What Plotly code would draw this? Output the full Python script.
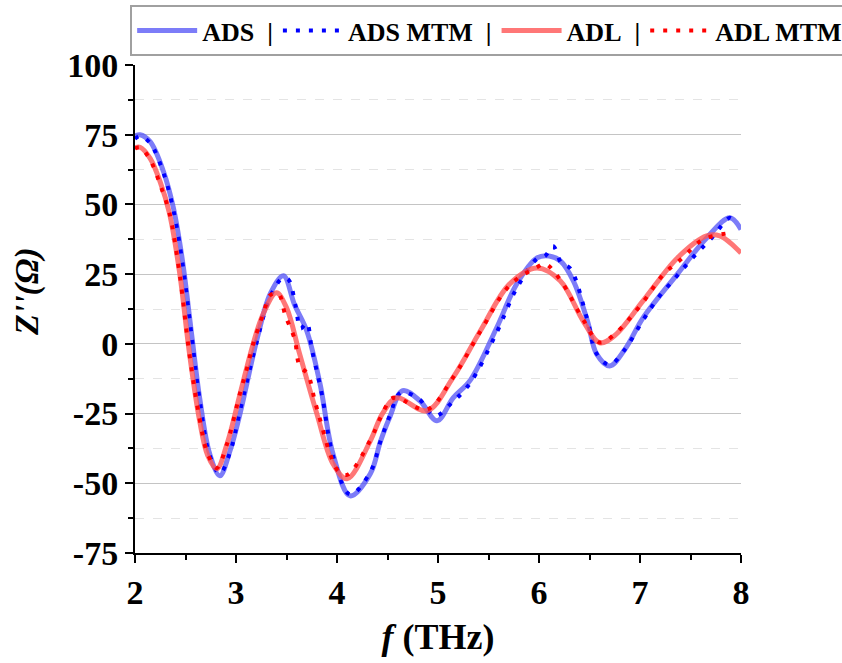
import plotly.graph_objects as go

# Frequency (THz) and imaginary impedance Z'' (Ohm) for each series
ads_f = [2.0, 2.05, 2.15, 2.28, 2.38, 2.47, 2.56, 2.64, 2.74, 2.84, 2.94, 3.04, 3.21, 3.34,
         3.47, 3.58, 3.70, 3.83, 3.96, 4.13, 4.33, 4.43, 4.52, 4.65, 4.82, 4.99, 5.15, 5.32,
         5.58, 5.78, 5.98, 6.10, 6.21, 6.34, 6.48, 6.57, 6.70, 6.85, 7.03, 7.37, 7.66, 7.89, 8.0]
ads_z = [74.5, 75, 72.5, 62, 48.8, 29.8, 3.6, -19.4, -39.5, -47.3, -38.4, -25, 2, 18,
         24.4, 14, 4.7, -14, -39.4, -54.5, -46.6, -35, -26.5, -16.8, -20.4, -27.6, -19.4, -13,
         5.7, 21.5, 30.8, 31.5, 29.8, 22.6, 8.2, -3.6, -7.9, -2, 9.3, 25, 38, 45.2, 41]

ads_mtm_f = [2.0, 2.05, 2.15, 2.28, 2.38, 2.47, 2.56, 2.64, 2.74, 2.84, 2.94, 3.04, 3.2, 3.34,
             3.46, 3.52, 3.59, 3.64, 3.70, 3.75, 3.85, 3.96, 4.13, 4.33, 4.43, 4.52, 4.63, 4.8,
             4.97, 5.14, 5.32, 5.58, 5.78, 5.98, 6.06, 6.14, 6.22, 6.31, 6.48, 6.57, 6.70,
             6.85, 7.03, 7.18, 7.35, 7.52, 7.71, 7.89, 7.93]
ads_mtm_z = [73.5, 74.5, 72, 61.5, 48, 29, 3, -20, -40, -46.5, -39, -24, 0, 17,
             23.5, 23, 13.6, 5.5, 7.5, -1.8, -18, -40, -54, -46, -35, -26, -17.5, -19.4,
             -25.8, -21, -14, 4, 20, 30.5, 31.5, 35, 29, 27, 8.5, -3.5, -7.5,
             -2, 8.5, 16.5, 23.7, 30.8, 38, 45.2, 44]

adl_f = [2.0, 2.05, 2.15, 2.25, 2.34, 2.44, 2.54, 2.64, 2.72, 2.81, 2.91, 3.04, 3.17, 3.27,
         3.40, 3.50, 3.63, 3.80, 3.96, 4.10, 4.33, 4.45, 4.59, 4.89, 5.15, 5.42, 5.71, 5.98,
         6.21, 6.44, 6.60, 6.75, 7.03, 7.37, 7.66, 7.79, 8.0]
adl_z = [70.3, 70.5, 66.5, 58, 47, 26, -3.6, -27.6, -40, -44.8, -36, -18, 0, 10.8,
         18.3, 13, -3.6, -25, -43, -48.4, -34.8, -25, -19.4, -24, -12, 4.7, 21.5, 27.2,
         22.6, 8, 0.4, 3, 15.4, 30.8, 38.7, 38.7, 32.6]

adl_mtm_f = [2.0, 2.05, 2.15, 2.25, 2.34, 2.44, 2.54, 2.64, 2.72, 2.81, 2.91, 3.04, 3.11, 3.17,
             3.27, 3.34, 3.42, 3.49, 3.58, 3.63, 3.71, 3.78, 3.85, 3.93, 4.01, 4.10, 4.33,
             4.43, 4.54, 4.60, 4.89, 5.15, 5.42, 5.71, 5.98, 6.06, 6.21, 6.44, 6.60, 6.75,
             7.03, 7.22, 7.42, 7.62, 7.89, 7.93]
adl_mtm_z = [70, 70.5, 66, 57, 47, 25.5, -4, -27, -39.5, -44.5, -36, -17.6, -8.6, 0,
             10.8, 17.5, 18, 10, 1.8, -7.9, -10.8, -20.4, -29.4, -39.4, -45.5, -47, -34.5,
             -26.5, -19.6, -19.4, -23.5, -12, 4.5, 21, 27.5, 28.7, 23, 8.5, 0.5, 3.5,
             15, 24.4, 30.8, 37.3, 39.8, 40]

y_ticks = [-75, -50, -25, 0, 25, 50, 75, 100]
x_ticks = [2, 3, 4, 5, 6, 7, 8]

SERIF = "Liberation Serif, Times New Roman, serif"
SP = "&nbsp;"

fig = go.Figure()
fig.add_trace(go.Scatter(x=ads_f, y=ads_z, mode="lines", name=f"<b>ADS{SP*2}|</b>",
                         line=dict(color="rgba(80,80,245,0.75)", width=5, shape="spline")))
fig.add_trace(go.Scatter(x=ads_mtm_f, y=ads_mtm_z, mode="lines", name=f"<b>ADS MTM{SP*2}|</b>",
                         line=dict(color="#0000ff", width=4, shape="spline", dash="4px,9px")))
fig.add_trace(go.Scatter(x=adl_f, y=adl_z, mode="lines", name=f"<b>ADL{SP*2}|</b>",
                         line=dict(color="rgba(255,85,85,0.8)", width=5, shape="spline")))
fig.add_trace(go.Scatter(x=adl_mtm_f, y=adl_mtm_z, mode="lines", name="<b>ADL MTM</b>",
                         line=dict(color="#ff0000", width=4, shape="spline", dash="4px,9px")))

fig.update_layout(
    width=842, height=663,
    margin=dict(l=135, r=101, t=65, b=110, autoexpand=False),
    plot_bgcolor="white", paper_bgcolor="white",
    font=dict(family=SERIF, color="black"),
    legend=dict(orientation="h", x=-0.008, y=1.123, xanchor="left", yanchor="top",
                bgcolor="white", bordercolor="#a0a0a0", borderwidth=2,
                font=dict(size=26, family=SERIF, color="black"),
                itemwidth=60, tracegroupgap=0),
    xaxis=dict(range=[2, 8], tickvals=x_ticks, ticktext=[f"<b>{v}</b>" for v in x_ticks],
               showgrid=False, zeroline=False, showline=True, linecolor="black", linewidth=2,
               ticks="outside", ticklen=8, tickwidth=2, tickcolor="black",
               tickfont=dict(size=34, family=SERIF),
               minor=dict(dtick=0.5, ticks="outside", ticklen=5, tickwidth=2, tickcolor="black",
                          showgrid=False),
               title=dict(text="<b><i>f</i> (THz)</b>", font=dict(size=36, family=SERIF),
                          standoff=14)),
    yaxis=dict(range=[-75, 100], tickvals=y_ticks, ticktext=[f"<b>{v}</b>" for v in y_ticks],
               showgrid=True, gridcolor="#c4c4c4", gridwidth=1,
               zeroline=False, showline=True, linecolor="black", linewidth=2,
               ticks="outside", ticklen=8, tickwidth=2, tickcolor="black",
               tickfont=dict(size=34, family=SERIF),
               minor=dict(dtick=12.5, ticks="outside", ticklen=5, tickwidth=2, tickcolor="black",
                          showgrid=True, gridcolor="#e4e4e4", griddash="dash", gridwidth=1)),
    annotations=[dict(text="<b><i>Z''(Ω)</i></b>", xref="paper", yref="paper",
                      x=-0.178, y=0.535, xanchor="center", yanchor="middle",
                      textangle=-90, showarrow=False,
                      font=dict(size=34, family=SERIF, color="black"))],
)

fig.write_html("out.html")
